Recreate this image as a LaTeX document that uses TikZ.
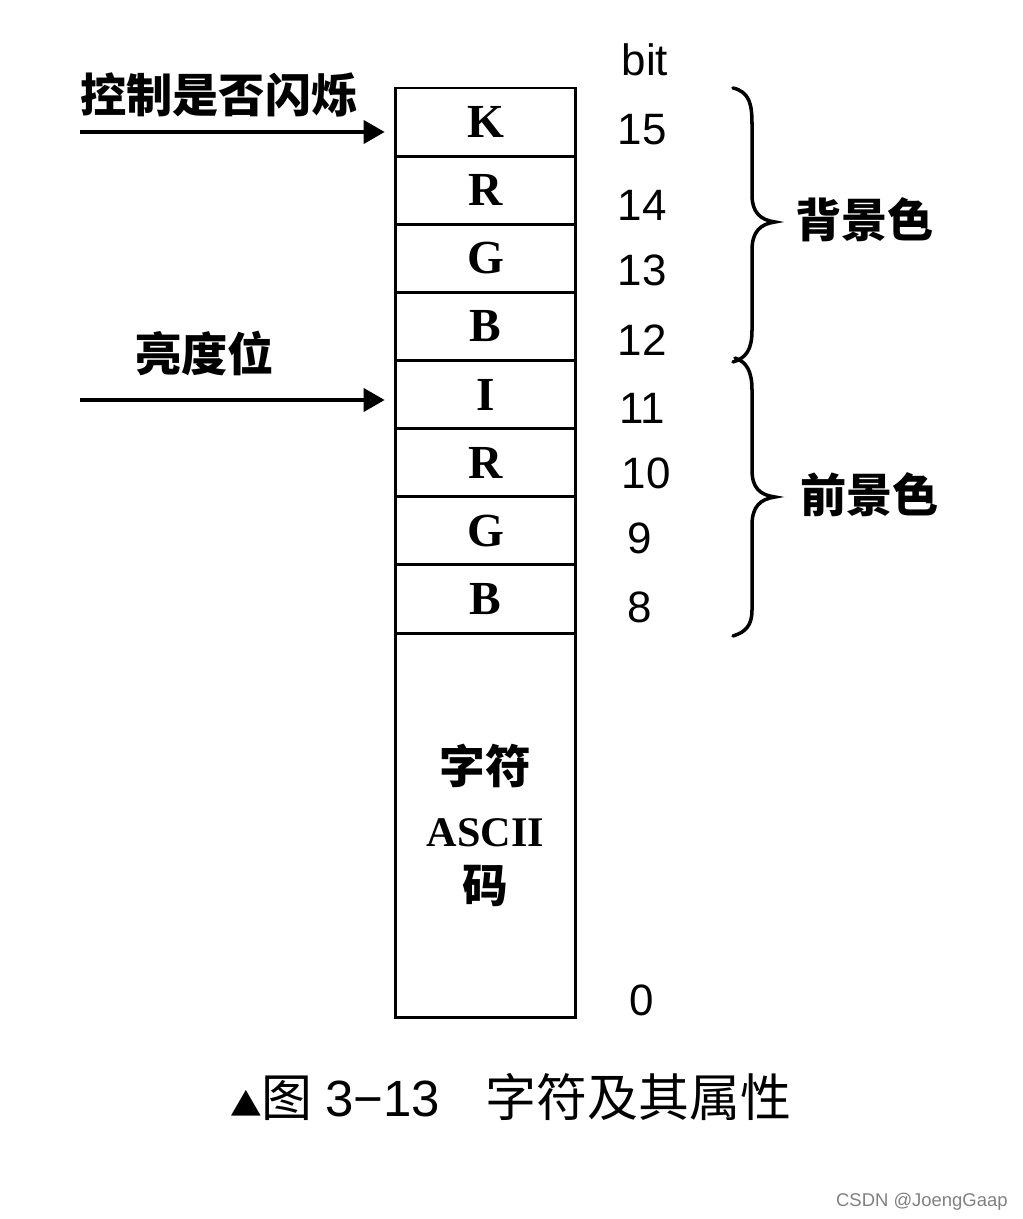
\documentclass[tikz,border=0pt]{standalone}
\usepackage{fontspec}
\setmainfont{Liberation Serif}
\setsansfont{Liberation Sans}
\newfontfamily\cjk{Noto Sans CJK SC}
\usetikzlibrary{arrows.meta}
\tikzset{
  cell/.style={draw, line width=1.7pt, minimum width=3.62cm, inner sep=0pt,
               font=\fontsize{27}{30}\selectfont\bfseries},
  bitnum/.style={inner sep=0pt, font=\sffamily\fontsize{25}{28}\selectfont},
  lab/.style={inner sep=0pt, anchor=west, font=\cjk\bfseries\fontsize{26.3}{28}\selectfont},
  arr/.style={line width=2.4pt, -{Triangle[length=12pt,width=13pt]}, shorten >=5pt},
  brace/.style={line width=2pt, line cap=round}
}
\begin{document}
\begin{tikzpicture}[x=0.02cm,y=-0.02cm]
\useasboundingbox (0,0) rectangle (1023,1219);
% cells
\node[cell, minimum height=1.3625cm] (c15) at (485.5,122.06) {K};
\node[cell, minimum height=1.3625cm] (c14) at (485.5,190.19) {R};
\node[cell, minimum height=1.3625cm] (c13) at (485.5,258.31) {G};
\node[cell, minimum height=1.3625cm] (c12) at (485.5,326.44) {B};
\node[cell, minimum height=1.3625cm] (c11) at (485.5,394.56) {I};
\node[cell, minimum height=1.3625cm] (c10) at (485.5,462.69) {R};
\node[cell, minimum height=1.3625cm] (c9) at (485.5,530.81) {G};
\node[cell, minimum height=1.3625cm] (c8) at (485.5,598.94) {B};
\node[cell, minimum height=7.7cm, align=center] (c0) at (485.5,825.5)
  {{\cjk\bfseries\fontsize{26}{34}\selectfont 字符}\\[6pt]
   {\fontsize{24}{34}\selectfont ASCII}\\[2pt]
   {\cjk\bfseries\fontsize{26}{34}\selectfont 码}};
% bit numbers
\node[bitnum] (bit) at (645,60) {bit};
\node[bitnum] (n15) at (642,130) {15};
\node[bitnum] (n14) at (642,205) {14};
\node[bitnum] (n13) at (642,270) {13};
\node[bitnum] (n12) at (642,340) {12};
\node[bitnum] (n11) at (642,408) {11};
\node[bitnum] (n10) at (646,473) {10};
\node[bitnum] (n9) at (640,538) {9};
\node[bitnum] (n8) at (640,607) {8};
\node[bitnum] (n0) at (642,1000) {0};
% arrows with labels
\node[lab] (lk) at (80,95) {控制是否闪烁};
\node[lab] (li) at (135,353) {亮度位};
\coordinate (s1) at (80,132);
\coordinate (s2) at (80,400);
\draw[arr] (s1) -- (s1 -| c15.west);
\draw[arr] (s2) -- (s2 -| c11.west);
% braces
\draw[brace] (733,88) .. controls (750,92) and (752,105) .. (752,125) -- (752,195)
  .. controls (752,212) and (760,220) .. (775,222)
  .. controls (760,224) and (752,232) .. (752,250) -- (752,330)
  .. controls (752,350) and (746,358) .. (733,362);
\draw[brace] (735,358) .. controls (747,362) and (752,372) .. (752,390) -- (752,470)
  .. controls (752,488) and (760,495) .. (775,497)
  .. controls (760,499) and (752,507) .. (752,525) -- (752,610)
  .. controls (752,625) and (746,632) .. (733,636);
\node[lab] (bg) at (795,220) {背景色};
\node[lab] (fg) at (800,495) {前景色};
% caption
\node[inner sep=0pt, anchor=west] (cap) at (230,1097)
  {{\cjk\fontsize{18}{20}\selectfont ▲}{\cjk\fontsize{29}{30}\selectfont 图}\hspace{7pt}%
   {\sffamily\fontsize{29}{30}\selectfont 3−13}\hspace{26pt}%
   {\cjk\fontsize{29}{30}\selectfont 字符及其属性}};
% watermark
\node[inner sep=0pt, anchor=east, text=black!50, font=\sffamily\fontsize{10.5}{12}\selectfont] (wm) at (1008,1202) {CSDN @JoengGaap};
\end{tikzpicture}
\end{document}
